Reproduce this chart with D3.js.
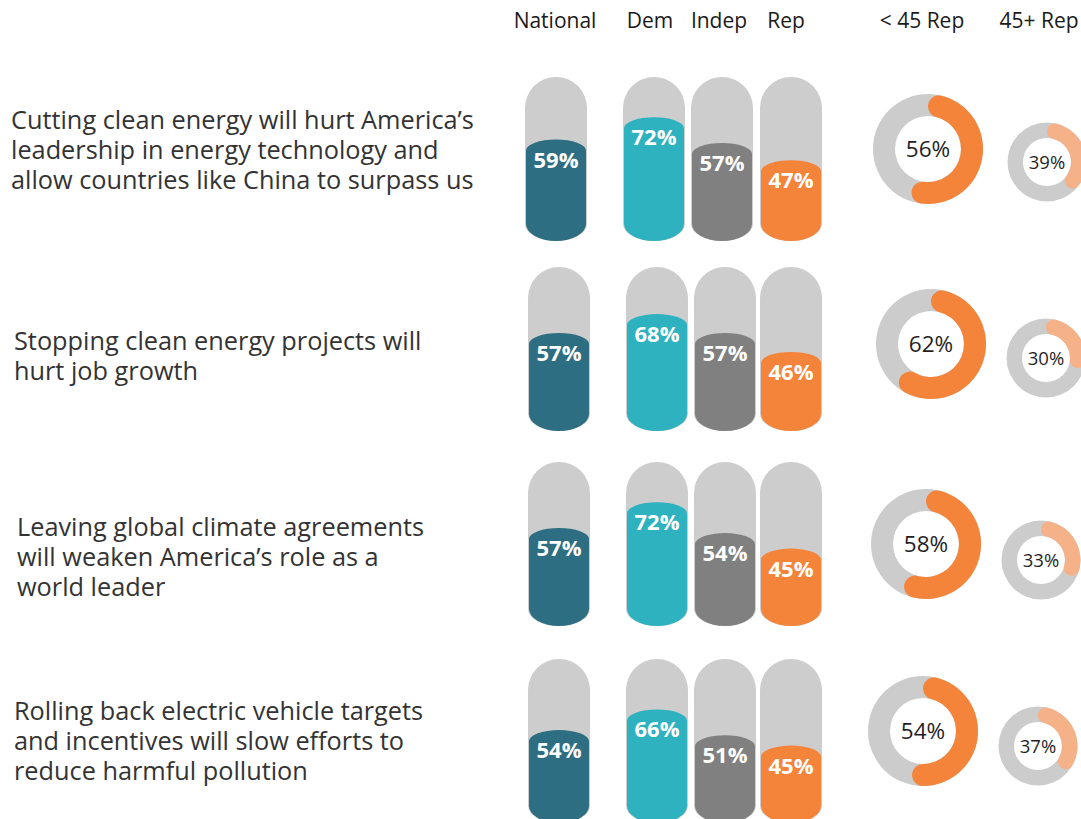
<!DOCTYPE html>
<html>
<head>
<meta charset="utf-8">
<script src="https://cdn.jsdelivr.net/npm/d3@7"></script>
<style>
  html, body { margin: 0; padding: 0; background: #ffffff; }
  svg { display: block; }
  text { font-family: "Open Sans", "Noto Sans", sans-serif; }
</style>
</head>
<body>
<svg id="chart" width="1081" height="819"></svg>
<script>
// ---------------- DATA ----------------
const questions = [
  ["Cutting clean energy will hurt America\u2019s", "leadership in energy technology and", "allow countries like China to surpass us"],
  ["Stopping clean energy projects will", "hurt job growth"],
  ["Leaving global climate agreements", "will weaken America\u2019s role as a", "world leader"],
  ["Rolling back electric vehicle targets", "and incentives will slow efforts to", "reduce harmful pollution"]
];
const barGroups = ["National", "Dem", "Indep", "Rep"];
const donutGroups = ["< 45 Rep", "45+ Rep"];
const national = [59, 57, 57, 54];
const dem      = [72, 68, 72, 66];
const indep    = [57, 57, 54, 51];
const rep      = [47, 46, 45, 45];
const under45Rep = [56, 62, 58, 54];
const over45Rep  = [39, 30, 33, 37];

// ---------------- LAYOUT ----------------
const barSeries = [national, dem, indep, rep];
const barColors = ["#2e6e82", "#2eb2c0", "#808080", "#f5843b"];
const pillGray = "#cdcdcd";
const ringGray = "#cccccc";
const donutColors = ["#f5843b", "#f5b187"];

const rowTop = [77, 267, 462, 659];
const barX = [[525, 623, 691, 760], [528, 626, 694, 760], [528, 626, 694, 760], [528, 626, 694, 760]];
const textX = [11, 14, 17, 14];
const textBase = [129, 350, 536, 720];
const bigC = [[928, 149], [931, 344], [926, 544], [923, 731]];
const smallC = [[1047, 162], [1046, 358], [1041, 560], [1038, 746]];
const headerX = { "National": 555, "Dem": 650, "Indep": 719, "Rep": 786, "< 45 Rep": 922, "45+ Rep": 1039 };

const barW = 62, pillH = 164, capRy = 11, botRy = 17, inset = 1;

const svg = d3.select("#chart");

// headers
svg.append("g").selectAll("text")
  .data(barGroups.concat(donutGroups))
  .join("text")
  .attr("x", d => headerX[d])
  .attr("y", 28)
  .attr("text-anchor", "middle")
  .attr("font-size", 21)
  .attr("fill", "#1a1a1a")
  .text(d => d);

// question labels
questions.forEach((lines, i) => {
  const t = svg.append("text")
    .attr("x", textX[i])
    .attr("y", textBase[i])
    .attr("font-size", 25.3)
    .attr("fill", "#333333");
  lines.forEach((ln, k) => {
    t.append("tspan").attr("x", textX[i]).attr("y", textBase[i] + k * 30).text(ln);
  });
});

function pillPath(x0, top, bottom) {
  const r = barW / 2;
  const p = d3.path();
  p.moveTo(x0, top + r);
  p.arc(x0 + r, top + r, r, Math.PI, 0);
  p.lineTo(x0 + barW, bottom - botRy);
  return p.toString() + ` A ${r} ${botRy} 0 0 1 ${x0} ${bottom - botRy} Z`;
}
function fillPath(x0, fTop, bottom) {
  const xl = x0 + inset, xr = x0 + barW - inset, rx = (xr - xl) / 2;
  return `M ${xl} ${fTop + capRy} A ${rx} ${capRy} 0 0 1 ${xr} ${fTop + capRy} ` +
         `L ${xr} ${bottom - botRy} A ${rx} ${botRy} 0 0 1 ${xl} ${bottom - botRy} Z`;
}

questions.forEach((q, i) => {
  const top = rowTop[i], bottom = top + pillH;
  const y = d3.scaleLinear().domain([0, 100]).range([bottom, bottom - 172]);
  const g = svg.append("g");
  barGroups.forEach((grp, j) => {
    const x0 = barX[i][j];
    const v = barSeries[j][i];
    g.append("path").attr("d", pillPath(x0, top, bottom)).attr("fill", pillGray);
    g.append("path").attr("d", fillPath(x0, y(v), bottom)).attr("fill", barColors[j]);
    g.append("text")
      .attr("x", x0 + barW / 2)
      .attr("y", y(v) + 28)
      .attr("text-anchor", "middle")
      .attr("font-size", 22)
      .attr("font-weight", 700)
      .attr("fill", "#ffffff")
      .text(v + "%");
  });

  const specs = [
    { c: bigC[i], outer: 55, inner: 33, v: under45Rep[i], color: donutColors[0], fs: 22.5 },
    { c: smallC[i], outer: 39.5, inner: 24, v: over45Rep[i], color: donutColors[1], fs: 18.5 }
  ];
  specs.forEach(s => {
    const dg = svg.append("g").attr("transform", `translate(${s.c[0]},${s.c[1]})`);
    const ang = d3.scaleLinear().domain([0, 100]).range([0, 2 * Math.PI]);
    dg.append("path")
      .attr("d", d3.arc().innerRadius(s.inner).outerRadius(s.outer).startAngle(0).endAngle(2 * Math.PI)())
      .attr("fill", ringGray);
    dg.append("path")
      .attr("d", d3.arc().innerRadius(s.inner).outerRadius(s.outer)
        .cornerRadius((s.outer - s.inner) / 2).startAngle(0).endAngle(ang(s.v))())
      .attr("fill", s.color);
    dg.append("text")
      .attr("x", 0).attr("y", 0)
      .attr("dy", "0.36em")
      .attr("text-anchor", "middle")
      .attr("font-size", s.fs)
      .attr("fill", "#1f1f1f")
      .text(s.v + "%");
  });
});
</script>
</body>
</html>
